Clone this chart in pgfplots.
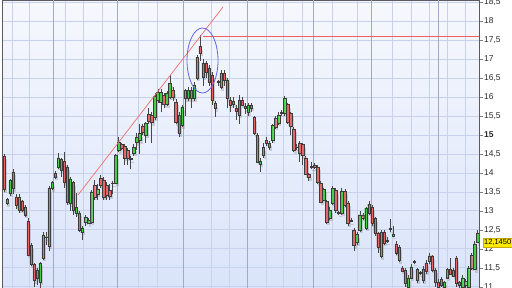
\documentclass[border=0pt]{standalone}
\usepackage{pgfplots}
\usepackage{pgfplotstable}
\pgfplotsset{compat=1.18}
\usepackage{fontspec}
\setmainfont{Liberation Sans}
\definecolor{bgtop}{RGB}{246,248,253}
\definecolor{bgbot}{RGB}{218,228,250}
\definecolor{gridl}{RGB}{200,210,236}
\definecolor{gridd}{RGB}{160,170,200}
\definecolor{axisc}{RGB}{90,90,100}
\definecolor{candgreen}{RGB}{72,204,72}
\definecolor{candred}{RGB}{228,104,104}
\definecolor{bordercol}{RGB}{60,60,60}
\definecolor{wickcol}{RGB}{70,70,70}
\definecolor{trendcol}{RGB}{240,110,110}
\definecolor{levelcol}{RGB}{240,95,95}
\definecolor{ellcol}{RGB}{100,100,230}
\definecolor{lblyellow}{RGB}{255,232,0}
\definecolor{lblborder}{RGB}{200,170,0}
\definecolor{ticktext}{RGB}{40,40,40}
\pgfplotstableread{
k o h l c
0 14.45 14.50 13.50 13.57
1 13.20 13.35 13.15 13.30
2 13.47 13.85 13.40 13.80
3 14.03 14.10 13.45 13.60
4 13.37 13.45 13.05 13.15
5 13.03 13.45 12.95 13.37
6 13.26 13.30 12.98 13.03
7 13.10 13.15 12.85 12.90
8 12.74 12.80 11.80 11.84
9 12.10 12.15 11.55 11.60
10 11.60 11.62 11.00 11.18
11 11.45 11.50 11.05 11.24
12 11.13 11.65 10.95 11.63
13 11.76 12.45 11.70 12.37
14 12.30 12.45 12.10 12.32
15 12.08 13.65 11.95 13.60
16 13.60 13.80 13.55 13.76
17 14.00 14.05 13.85 13.90
18 14.16 14.53 14.10 14.40
19 14.35 14.40 13.90 14.08
20 14.30 14.55 13.60 13.76
21 14.16 14.20 13.15 13.24
22 13.20 13.90 13.00 13.84
23 13.76 13.80 12.90 13.03
24 12.95 13.47 12.85 13.10
25 12.95 13.00 12.45 12.50
26 12.45 12.60 12.24 12.55
27 12.71 12.90 12.60 12.84
28 12.68 12.80 12.65 12.76
29 12.71 13.55 12.65 13.50
30 13.68 13.82 13.30 13.37
31 13.45 13.70 13.30 13.58
32 13.87 13.95 13.60 13.68
33 13.82 13.90 13.29 13.37
34 13.68 13.75 13.28 13.42
35 13.55 13.70 13.29 13.40
36 13.72 13.78 13.45 13.74
37 13.74 14.50 13.70 14.47
38 14.60 14.95 14.55 14.80
39 14.76 14.80 14.60 14.66
40 14.71 14.75 14.20 14.40
41 14.60 14.65 14.20 14.40
42 14.36 14.45 14.10 14.38
43 14.53 14.75 14.45 14.68
44 14.80 15.05 14.60 14.95
45 14.85 15.30 14.50 15.05
46 15.24 15.30 15.00 15.08
47 15.00 15.35 14.80 15.32
48 15.55 15.70 15.30 15.37
49 15.53 15.60 14.79 15.34
50 15.47 16.10 15.40 16.03
51 15.92 16.20 15.85 16.13
52 15.87 16.20 15.60 16.13
53 16.05 16.10 15.70 15.80
54 15.80 16.15 15.75 16.10
55 16.00 16.58 15.95 16.37
56 16.18 16.25 15.90 16.00
57 15.87 15.95 15.30 15.34
58 15.53 15.60 14.95 15.05
59 15.26 15.80 15.20 15.74
60 15.97 16.20 15.50 16.18
61 15.97 16.25 15.90 16.18
62 16.18 16.25 15.70 15.97
63 15.97 16.40 15.90 16.32
64 16.50 17.10 16.45 17.05
65 17.34 17.62 16.95 17.16
66 16.90 17.00 16.30 16.53
67 16.90 16.95 16.50 16.66
68 16.76 16.85 16.30 16.40
69 16.58 16.65 15.80 15.92
70 15.70 15.90 15.47 15.84
71 16.39 16.45 16.30 16.41
72 16.26 16.70 16.20 16.63
73 16.63 16.70 16.30 16.45
74 16.45 16.50 15.70 15.97
75 15.92 16.00 15.60 15.79
76 15.82 16.00 15.70 15.90
77 15.71 15.80 15.40 15.63
78 15.92 16.05 15.30 15.53
79 15.92 16.00 15.75 15.79
80 15.75 15.85 15.55 15.70
81 15.60 15.85 15.50 15.79
82 15.79 15.85 15.60 15.71
83 15.47 15.50 15.00 15.05
84 15.00 15.05 14.25 14.29
85 14.24 14.40 14.03 14.32
86 14.47 14.80 14.40 14.68
87 14.87 14.95 14.70 14.79
88 14.79 14.85 14.60 14.68
89 14.87 15.30 14.80 15.26
90 15.45 15.50 15.15 15.21
91 15.32 15.60 15.25 15.53
92 15.57 15.65 15.50 15.59
93 15.58 16.02 15.50 15.97
94 15.80 15.85 15.30 15.34
95 15.58 15.60 15.00 15.24
96 15.16 15.20 14.55 14.60
97 14.67 14.75 14.60 14.69
98 14.79 14.85 14.29 14.53
99 14.76 14.80 14.20 14.47
100 14.40 14.45 13.95 13.97
101 13.97 14.00 13.80 13.89
102 14.15 14.30 14.10 14.17
103 14.20 14.25 14.10 14.15
104 14.16 14.20 13.70 13.76
105 13.74 13.78 13.20 13.24
106 13.29 13.60 13.25 13.58
107 13.26 13.30 12.65 12.71
108 12.82 13.10 12.75 13.03
109 13.21 13.65 13.15 13.60
110 13.55 13.60 12.95 13.03
111 12.94 13.00 12.90 12.96
112 12.95 13.60 12.90 13.53
113 13.53 13.58 13.10 13.16
114 13.21 13.25 12.60 12.68
115 12.73 12.80 12.70 12.75
116 12.50 12.55 11.95 12.10
117 12.18 12.45 12.10 12.39
118 12.50 13.00 12.45 12.90
119 12.90 12.95 12.75 12.82
120 12.55 13.10 12.50 13.08
121 13.18 13.25 12.90 12.95
122 13.10 13.15 12.60 12.68
123 12.80 12.85 12.35 12.42
124 12.42 12.45 11.90 12.05
125 11.80 12.50 11.75 12.45
126 12.45 12.50 12.10 12.16
127 12.20 12.30 12.15 12.22
128 12.52 12.79 12.45 12.54
129 12.34 12.60 12.30 12.39
130 12.13 12.20 11.85 11.90
131 12.05 12.10 11.65 11.70
132 11.50 11.55 11.40 11.42
133 11.45 11.50 11.00 11.10
134 11.00 11.30 10.90 11.24
135 11.24 11.60 11.20 11.53
136 11.65 11.70 11.60 11.67
137 11.47 11.50 11.10 11.18
138 11.36 11.42 11.30 11.38
139 11.47 11.55 11.10 11.18
140 11.63 11.70 11.35 11.40
141 11.68 11.90 11.60 11.82
142 11.82 11.85 11.40 11.45
143 11.45 11.50 11.00 11.13
144 11.13 11.20 10.90 10.98
145 11.20 11.25 11.00 11.05
146 10.98 11.15 10.90 11.13
147 11.24 11.50 11.20 11.47
148 11.47 11.75 11.30 11.34
149 11.45 11.50 11.25 11.29
150 11.76 11.80 11.00 11.10
151 11.13 11.15 10.95 11.05
152 11.00 11.30 10.90 11.24
153 11.05 11.20 10.95 11.15
154 11.00 11.55 10.90 11.50
155 11.84 11.90 11.45 11.50
156 11.47 12.20 11.45 12.13
157 12.18 12.50 12.15 12.42
}\candles
\begin{document}
\begin{tikzpicture}
\begin{axis}[
  at={(0,0)}, anchor=south west,
  scale only axis, width=477bp, height=288bp,
  xmin=2, xmax=479, ymin=10.97, ymax=18.553,
  axis background/.style={top color=bgtop, bottom color=bgbot},
  xtick={12,29,65,83,102,138,157,211,229,266,283,302,332,357,392,411,429,447,465},
  xticklabels={},
  extra x ticks={53,117,183,247,313,371,438},
  extra x tick labels={},
  extra x tick style={grid style={draw=gridd, line width=1bp}},
  xtick style={draw=none},
  xmajorgrids, ymajorgrids,
  grid style={draw=gridl, line width=0.8bp},
  ytick={11,11.5,12,12.5,13,13.5,14,14.5,15,15.5,16,16.5,17,17.5,18,18.5},
  yticklabels={11,{11,5},12,{12,5},13,{13,5},14,{14,5},\textbf{15},{15,5},16,{16,5},17,{17,5},18,{18,5}},
  ytick pos=right, yticklabel pos=right,
  tick align=outside, major tick length=4bp,
  ytick style={draw=gray, line width=0.6bp},
  yticklabel style={font=\fontsize{8.5}{10}\selectfont, text=ticktext, anchor=west, inner sep=0pt, xshift=1bp},
  x axis line style={draw=none},
  y axis line style={draw=axisc, line width=0.9bp},
]
\addplot[draw=none, mark=none, forget plot,
  error bars/.cd, y dir=plus, y explicit, error mark=none,
  error bar style={line width=2.8bp, draw=gray, opacity=0.3, xshift=1.6bp, yshift=-3.5bp}]
  table[x expr={4+3.016*\thisrow{k}}, y expr={min(\thisrow{o},\thisrow{c})}, y error plus expr={abs(\thisrow{c}-\thisrow{o})}] {\candles};
\addplot[draw=none, mark=none, forget plot,
  error bars/.cd, y dir=plus, y explicit, error mark=none,
  error bar style={line width=0.6bp, draw=wickcol}]
  table[x expr={4+3.016*\thisrow{k}}, y=l, y error plus expr={\thisrow{h}-\thisrow{l}}] {\candles};
\end{axis}
\begin{axis}[
  at={(0,0)}, anchor=south west,
  scale only axis, width=477bp, height=288bp,
  xmin=2, xmax=479, ymin=10.97, ymax=18.553,
  axis lines=none, ybar stacked, bar width=2.5,
]
\addplot[draw=none, fill=none] table[x expr={4+3.016*\thisrow{k}}, y expr={min(\thisrow{o},\thisrow{c})}] {\candles};
\addplot[draw=bordercol, fill=candgreen, line width=0.35bp] table[x expr={4+3.016*\thisrow{k}}, y expr={max(\thisrow{c}-\thisrow{o},0)}] {\candles};
\addplot[draw=bordercol, fill=candred, line width=0.35bp] table[x expr={4+3.016*\thisrow{k}}, y expr={max(\thisrow{o}-\thisrow{c},0)}] {\candles};
\end{axis}
\begin{axis}[
  at={(0,0)}, anchor=south west,
  scale only axis, width=477bp, height=288bp,
  xmin=2, xmax=479, ymin=10.97, ymax=18.553,
  axis lines=none, clip=false,
]
\addplot[color=trendcol, line width=0.7bp, mark=none] coordinates {(78,13.42) (223,18.37)};
\addplot[color=levelcol, line width=0.9bp, mark=none, opacity=1] coordinates {(203,17.605) (478.5,17.605)};
\draw[ellcol, line width=0.8bp] (axis cs:202.5,16.96) ellipse [x radius=15.5bp, y radius=32.5bp];
\node[fill=lblyellow, draw=lblborder, line width=0.4bp, font=\fontsize{7.5}{8}\selectfont, text=black, anchor=west, inner xsep=1bp, inner ysep=1.5bp] at (axis cs:479,12.16) [xshift=4bp] {12,1450};
\end{axis}
\pgfresetboundingbox
\path (-2bp,0) rectangle (510bp,288bp);
\end{tikzpicture}
\end{document}
